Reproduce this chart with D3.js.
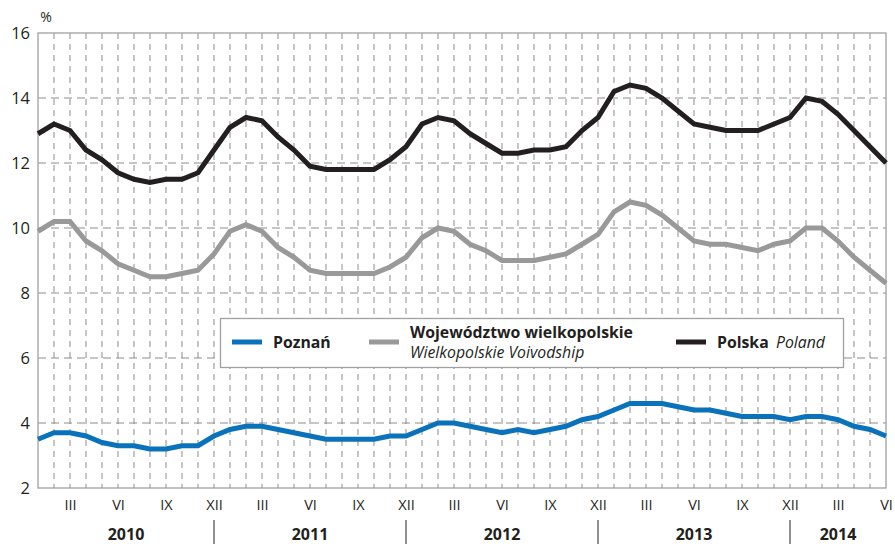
<!DOCTYPE html>
<html>
<head>
<meta charset="utf-8">
<script src="https://cdnjs.cloudflare.com/ajax/libs/d3/7.8.5/d3.min.js"></script>
<style>
  body { margin: 0; background: #fff; }
  text { font-family: "Open Sans", "Noto Sans", sans-serif; fill: #231f20; }
</style>
</head>
<body>
<div id="chart"></div>
<script>
// months I 2010 - VI 2014
var years = ["2010", "2011", "2012", "2013", "2014"];
var monthLabels = ["I","II","III","IV","V","VI","VII","VIII","IX","X","XI","XII"];

var poznan = [3.5,3.7,3.7,3.6,3.4,3.3,3.3,3.2,3.2,3.3,3.3,3.6,
              3.8,3.9,3.9,3.8,3.7,3.6,3.5,3.5,3.5,3.5,3.6,3.6,
              3.8,4.0,4.0,3.9,3.8,3.7,3.8,3.7,3.8,3.9,4.1,4.2,
              4.4,4.6,4.6,4.6,4.5,4.4,4.4,4.3,4.2,4.2,4.2,4.1,
              4.2,4.2,4.1,3.9,3.8,3.6];
var wojewodztwo = [9.9,10.2,10.2,9.6,9.3,8.9,8.7,8.5,8.5,8.6,8.7,9.2,
                   9.9,10.1,9.9,9.4,9.1,8.7,8.6,8.6,8.6,8.6,8.8,9.1,
                   9.7,10.0,9.9,9.5,9.3,9.0,9.0,9.0,9.1,9.2,9.5,9.8,
                   10.5,10.8,10.7,10.4,10.0,9.6,9.5,9.5,9.4,9.3,9.5,9.6,
                   10.0,10.0,9.6,9.1,8.7,8.3];
var polska = [12.9,13.2,13.0,12.4,12.1,11.7,11.5,11.4,11.5,11.5,11.7,12.4,
              13.1,13.4,13.3,12.8,12.4,11.9,11.8,11.8,11.8,11.8,12.1,12.5,
              13.2,13.4,13.3,12.9,12.6,12.3,12.3,12.4,12.4,12.5,13.0,13.4,
              14.2,14.4,14.3,14.0,13.6,13.2,13.1,13.0,13.0,13.0,13.2,13.4,
              14.0,13.9,13.5,13.0,12.5,12.0];
var yTicks = [2,4,6,8,10,12,14,16];

var m = {top: 33, right: 9, bottom: 56, left: 38}
    , W = 895, H = 544
    , w = W - m.left - m.right
    , h = H - m.top - m.bottom;

var n = polska.length;

var svg = d3.select("#chart").append("svg")
    .attr("width", W)
    .attr("height", H);

var g = svg.append("g")
    .attr("transform", "translate(" + m.left + "," + m.top + ")");

var x = d3.scaleLinear().domain([0, n - 1]).range([0, w]);
var y = d3.scaleLinear().domain([2, 16]).range([h, 0]);

//vertical grid, every month
g.append("g").selectAll("line")
    .data(d3.range(1, n - 1))
    .enter().append("line")
    .attr("x1", function(d) { return x(d); })
    .attr("x2", function(d) { return x(d); })
    .attr("y1", 0)
    .attr("y2", h)
    .attr("stroke", "#8c8c8c")
    .attr("stroke-width", 1)
    .attr("stroke-dasharray", "6,5");

//horizontal grid
g.append("g").selectAll("line")
    .data(yTicks.slice(1, -1))
    .enter().append("line")
    .attr("x1", 0)
    .attr("x2", w)
    .attr("y1", function(d) { return y(d); })
    .attr("y2", function(d) { return y(d); })
    .attr("stroke", "#8c8c8c")
    .attr("stroke-width", 1)
    .attr("stroke-dasharray", "8,5");

//frame
g.append("rect")
    .attr("x", 0).attr("y", 0)
    .attr("width", w).attr("height", h)
    .attr("fill", "none")
    .attr("stroke", "#a0a0a0")
    .attr("stroke-width", 1.3);

//y axis labels
var yAxis = d3.axisLeft(y).tickValues(yTicks).tickSize(0).tickPadding(8);
var ya = g.append("g").call(yAxis);
ya.select(".domain").remove();
ya.selectAll("text")
    .style("font-size", "16.5px")
    .attr("fill", "#231f20");

svg.append("text")
    .attr("x", 46)
    .attr("y", 22)
    .attr("text-anchor", "middle")
    .style("font-size", "14px")
    .text("%");

//x axis: months
var monthIdx = d3.range(n).filter(function(i) { return (i % 12) % 3 == 2; });
var xAxis = d3.axisBottom(x)
    .tickValues(monthIdx)
    .tickSize(0)
    .tickPadding(12)
    .tickFormat(function(d) { return monthLabels[d % 12]; });
var xa = g.append("g")
    .attr("transform", "translate(0," + h + ")")
    .call(xAxis);
xa.select(".domain").remove();
xa.selectAll("text")
    .style("font-size", "14.5px")
    .attr("fill", "#231f20");

//year separators and labels
var seps = [11, 23, 35, 47];
g.append("g").selectAll("line")
    .data(seps)
    .enter().append("line")
    .attr("x1", function(d) { return x(d); })
    .attr("x2", function(d) { return x(d); })
    .attr("y1", h + 32)
    .attr("y2", H - m.top)
    .attr("stroke", "#231f20")
    .attr("stroke-width", 1);

var bounds = [0].concat(seps).concat([n - 1]);
g.append("g").selectAll("text")
    .data(years)
    .enter().append("text")
    .attr("x", function(d, i) { return (x(bounds[i]) + x(bounds[i + 1])) / 2; })
    .attr("y", h + 51.5)
    .attr("text-anchor", "middle")
    .style("font-size", "16px")
    .style("font-weight", "bold")
    .text(function(d) { return d; });

//series
var series = [
    {name: "polska", values: polska, color: "#231f20"},
    {name: "woj", values: wojewodztwo, color: "#999999"},
    {name: "poznan", values: poznan, color: "#0a72bb"}
];

var line = d3.line()
    .x(function(d, i) { return x(i); })
    .y(function(d) { return y(d); });

g.selectAll(".series")
    .data(series)
    .enter().append("path")
    .attr("class", "series")
    .attr("d", function(d) { return line(d.values); })
    .attr("fill", "none")
    .attr("stroke", function(d) { return d.color; })
    .attr("stroke-width", 5)
    .attr("stroke-linejoin", "miter");

//legend
var lg = svg.append("g");
lg.append("rect")
    .attr("x", 220.5).attr("y", 318.5)
    .attr("width", 623).attr("height", 49)
    .attr("fill", "#fff")
    .attr("stroke", "#a0a0a0")
    .attr("stroke-width", 1.3);

var legendItems = [
    {x: 232, color: "#0a72bb", bold: "Poznań", boldY: 348, it: null},
    {x: 369, color: "#999999", bold: "Województwo wielkopolskie", boldY: 338, it: "Wielkopolskie Voivodship", itX: 410, itY: 358},
    {x: 676, color: "#231f20", bold: "Polska", boldY: 348, it: "Poland", itX: 776, itY: 348}
];

legendItems.forEach(function(d) {
    lg.append("line")
        .attr("x1", d.x).attr("x2", d.x + 30)
        .attr("y1", 342).attr("y2", 342)
        .attr("stroke", d.color)
        .attr("stroke-width", 5);
    lg.append("text")
        .attr("x", d.x + 41)
        .attr("y", d.boldY)
        .style("font-size", "15.8px")
        .style("font-weight", "bold")
        .text(d.bold);
    if (d.it) {
        lg.append("text")
            .attr("x", d.itX)
            .attr("y", d.itY)
            .style("font-size", "15.8px")
            .style("font-style", "italic")
            .text(d.it);
    }
});
</script>
</body>
</html>
